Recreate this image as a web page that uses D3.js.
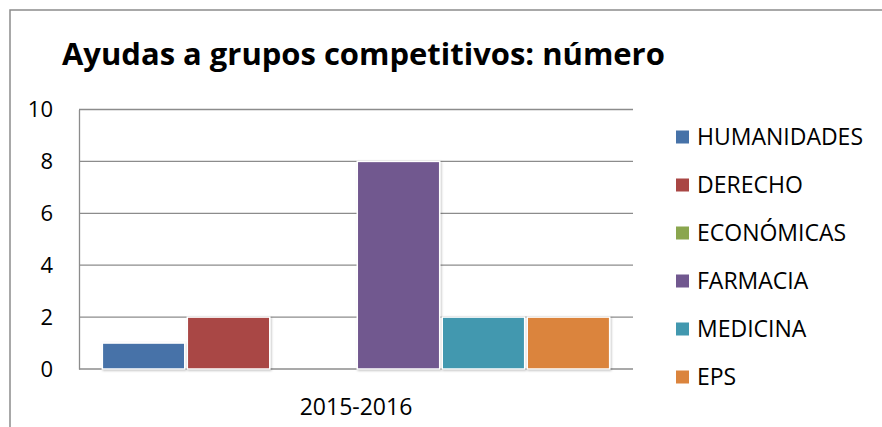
<!DOCTYPE html>
<html>
<head>
  <meta charset="utf-8">
  <title>Ayudas a grupos competitivos</title>
  <script src="https://d3js.org/d3.v7.min.js"></script>
  <style>
    body { margin: 0; background: #fff; }
    text { font-family: "Open Sans", sans-serif; fill: #000; }
  </style>
</head>
<body>
  <div id="chart"></div>
  <script>
    // data
    const categories = ["2015-2016"];
    const series = ["HUMANIDADES", "DERECHO", "ECONÓMICAS", "FARMACIA", "MEDICINA", "EPS"];
    const values = [1, 2, 0, 8, 2, 2];
    const colors = ["#4672a8", "#a94644", "#8aa64e", "#71588f", "#4298af", "#db843d"];
    const yTicks = [0, 2, 4, 6, 8, 10];

    const W = 882, H = 427;
    const plot = {left: 79, right: 633, top: 109.5, bottom: 369};

    const svg = d3.select("#chart").append("svg")
      .attr("width", W)
      .attr("height", H);

    // soft shadow under the bars
    const defs = svg.append("defs");
    defs.append("filter").attr("id", "shadow")
      .attr("x", "-10%").attr("y", "-10%").attr("width", "130%").attr("height", "130%")
      .append("feDropShadow")
      .attr("dx", 1).attr("dy", 1).attr("stdDeviation", 1.2)
      .attr("flood-color", "#000").attr("flood-opacity", 0.25);

    // outer frame (only left and top visible)
    svg.append("path")
      .attr("d", `M10,${H} L10,10 L${W},10`)
      .attr("fill", "none")
      .attr("stroke", "#8c8c8c")
      .attr("stroke-width", 1.5);

    // title, sized to fit the same span as the original
    const title = svg.append("text")
      .attr("x", 62).attr("y", 65)
      .style("font-weight", "bold")
      .style("font-size", "30px")
      .text("Ayudas a grupos competitivos: número");
    const tw = title.node().getComputedTextLength();
    title.style("font-size", (30 * 603 / tw).toFixed(2) + "px");

    // scales
    const y = d3.scaleLinear().domain([0, 10]).range([plot.bottom, plot.top]);
    const x0 = d3.scaleBand().domain(categories).range([plot.left, plot.right]).paddingOuter(0.046);
    const x1 = d3.scaleBand().domain(series).range([0, x0.bandwidth()]).paddingInner(0.03);
    const color = d3.scaleOrdinal().domain(series).range(colors);

    // gridlines
    svg.append("g")
      .selectAll("line")
      .data(yTicks)
      .join("line")
      .attr("x1", plot.left).attr("x2", plot.right)
      .attr("y1", d => y(d)).attr("y2", d => y(d))
      .attr("stroke", "#8c8c8c")
      .attr("stroke-width", 1.3);

    // y axis
    const yAxis = svg.append("g")
      .attr("transform", `translate(${plot.left},0)`)
      .call(d3.axisLeft(y).tickValues(yTicks).tickSize(0).tickPadding(26));
    yAxis.select(".domain").attr("stroke", "#8c8c8c").attr("stroke-width", 1.3);
    yAxis.selectAll("text").style("font-size", "22px").style("font-family", "'Open Sans', sans-serif").attr("fill", "#000");

    // x axis labels
    const xAxis = svg.append("g")
      .attr("transform", `translate(0,${plot.bottom})`)
      .call(d3.axisBottom(x0).tickSize(0).tickPadding(30));
    xAxis.select(".domain").remove();
    xAxis.selectAll("text").style("font-size", "23px").style("font-family", "'Open Sans', sans-serif").attr("fill", "#000");

    // bars
    const rows = series.map((s, i) => ({cat: categories[0], name: s, value: values[i]}));
    svg.append("g")
      .selectAll("rect")
      .data(rows.filter(d => d.value > 0))
      .join("rect")
      .attr("x", d => x0(d.cat) + x1(d.name))
      .attr("y", d => y(d.value))
      .attr("width", x1.bandwidth())
      .attr("height", d => y(0) - y(d.value))
      .attr("fill", d => color(d.name))
      .attr("stroke", "#fff")
      .attr("stroke-width", 1.5)
      .attr("filter", "url(#shadow)");

    // legend
    const legend = svg.append("g")
      .selectAll("g")
      .data(series)
      .join("g")
      .attr("transform", (d, i) => `translate(676,${137 + i * 48})`);
    legend.append("rect")
      .attr("x", 0).attr("y", -6.5)
      .attr("width", 13).attr("height", 13)
      .attr("fill", d => color(d));
    legend.append("text")
      .attr("x", 21).attr("dy", "0.36em")
      .style("font-size", "23px")
      .text(d => d);
  </script>
</body>
</html>
